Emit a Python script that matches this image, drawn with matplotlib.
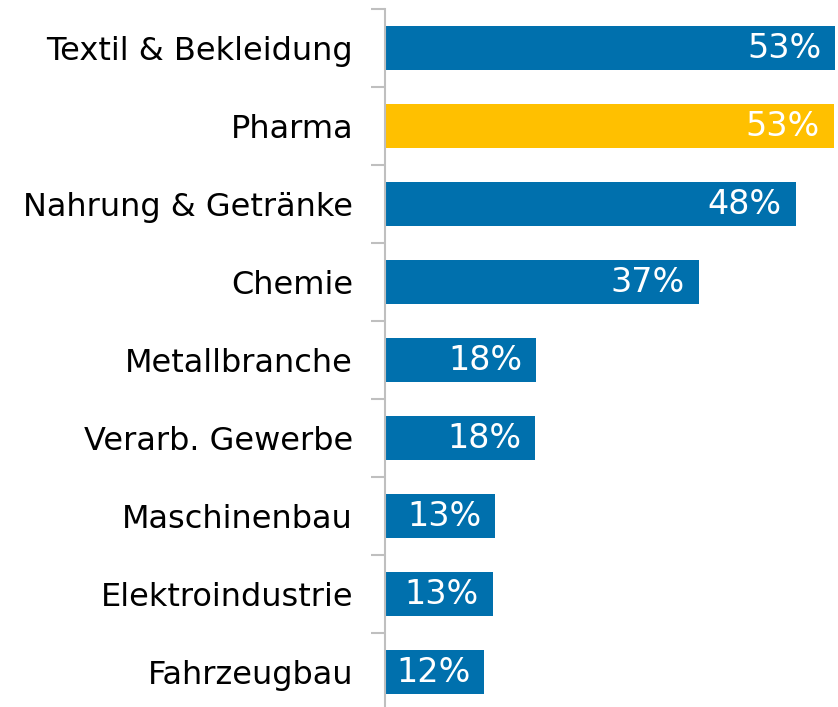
import matplotlib
matplotlib.use("Agg")
import matplotlib.pyplot as plt
import numpy as np

categories = ["Textil & Bekleidung", "Pharma", "Nahrung & Getränke", "Chemie",
              "Metallbranche", "Verarb. Gewerbe", "Maschinenbau",
              "Elektroindustrie", "Fahrzeugbau"]
values = [53.0, 52.8, 48.3, 36.9, 17.8, 17.7, 13.0, 12.7, 11.7]
labels = ["53%", "53%", "48%", "37%", "18%", "18%", "13%", "13%", "12%"]
highlight = "Pharma"

blue = "#0070AD"
yellow = "#FFC000"

fig = plt.figure(figsize=(8.38, 7.07), dpi=100)
ax = fig.add_axes([385 / 838, -4 / 707, 1 - 385 / 838, 702 / 707])

y = np.arange(len(categories))
colors = [yellow if c == highlight else blue for c in categories]
ax.barh(y, values, height=0.57, color=colors)

for yi, v, lab in zip(y, values, labels):
    ax.annotate(lab, xy=(v, yi), xytext=(-14, 0), textcoords="offset pixels",
                ha="right", va="center", color="white", fontsize=24)

ax.set_ylim(len(categories) - 0.5, -0.5)
ax.set_xlim(0, 53.3)
ax.set_yticks(y)
ax.set_yticklabels(categories, fontsize=23)
ax.set_yticks(np.arange(-0.5, len(categories) - 0.5), minor=True)
ax.tick_params(axis="y", which="major", length=0, pad=23)
ax.tick_params(axis="y", which="minor", length=10, width=1.5, color="#BFBFBF")
ax.set_xticks([])
for s in ["top", "right", "bottom"]:
    ax.spines[s].set_visible(False)
ax.spines["left"].set_color("#BFBFBF")
ax.spines["left"].set_linewidth(1.5)

fig.savefig("out.png", dpi=100)
